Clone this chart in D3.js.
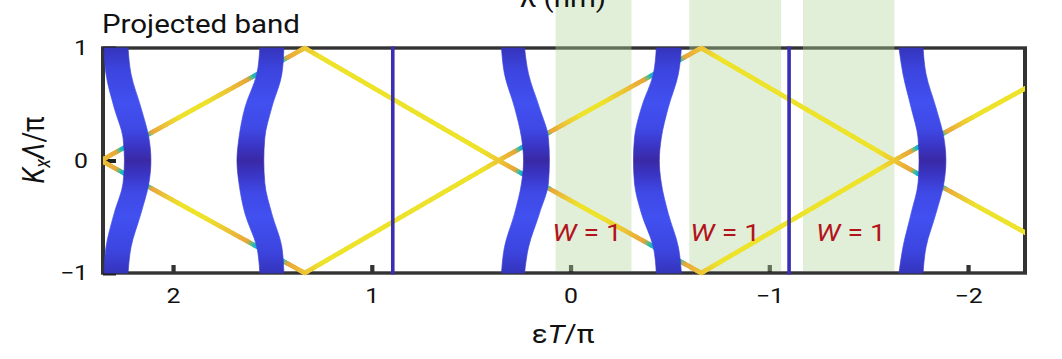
<!DOCTYPE html>
<html><head><meta charset="utf-8">
<script src="https://cdn.jsdelivr.net/npm/d3@7"></script>
<style>
html,body{margin:0;padding:0;background:#fff;overflow:hidden;}
svg{display:block;}
text{font-family:Roboto,"Liberation Sans",sans-serif;fill:#111;}
</style></head><body>
<div id="chart"></div>
<script>
// ---------------- data ----------------
const xDomain = [2.352, -2.287];          // εT/π (reversed axis)
const yDomain = [-1, 1];                  // K_xΛ/π
const xTicks = [2, 1, 0, -1, -2];
const yTicks = [-1, 0, 1];

// bulk projected bands: edges (εT/π) at each K_xΛ/π
const bandK = [-1, -0.77, -0.47, -0.2, 0, 0.2, 0.47, 0.77, 1];
const band1Hi = [2.347, 2.337, 2.296, 2.251, 2.244, 2.251, 2.296, 2.337, 2.347];
const band1Lo = [2.226, 2.211, 2.161, 2.121, 2.111, 2.121, 2.161, 2.211, 2.226];
const band2Hi = [1.563, 1.578, 1.638, 1.668, 1.678, 1.668, 1.638, 1.578, 1.563];
const band2Lo = [1.442, 1.452, 1.503, 1.538, 1.543, 1.538, 1.503, 1.452, 1.442];
const band3Hi = [0.347, 0.332, 0.281, 0.246, 0.236, 0.246, 0.281, 0.332, 0.347];
const band3Lo = [0.231, 0.211, 0.156, 0.111, 0.106, 0.111, 0.156, 0.211, 0.231];
const band4Hi = [-0.432, -0.417, -0.357, -0.322, -0.317, -0.322, -0.357, -0.417, -0.432];
const band4Lo = [-0.558, -0.543, -0.492, -0.457, -0.447, -0.457, -0.492, -0.543, -0.558];
const band5Hi = [-1.653, -1.673, -1.714, -1.749, -1.754, -1.749, -1.714, -1.673, -1.653];
const band5Lo = [-1.774, -1.789, -1.839, -1.879, -1.889, -1.879, -1.839, -1.789, -1.774];

// flat (dispersionless) bands
const flatBands = [0.894, -1.100];

// edge-state lines (εT/π, K_xΛ/π) vertices
const edgeA = [[2.362, 0], [1.337, 1], [0.362, 0], [-0.658, -1], [-1.628, 0], [-2.658, 1]];
const edgeB = [[2.362, 0], [1.337, -1], [0.362, 0], [-0.658, 1], [-1.628, 0], [-2.658, -1]];

// topological gap regions (W = 1)
const gapStart = [0.075, -0.598, -1.170];
const gapEnd = [-0.307, -1.060, -1.630];
const gapLabelX = [0.092, -0.603, -1.236];
const gapLabel = ["W", "W", "W"];

// ---------------- chart ----------------
const SX = 1.18;
const VW = 1062 / SX, VH = 359;
const svg = d3.select("#chart").append("svg")
  .attr("width", 1062).attr("height", 359)
  .attr("viewBox", `0 0 ${VW} ${VH}`)
  .attr("preserveAspectRatio", "none");

const x = d3.scaleLinear().domain(xDomain).range([103 / SX, 1025 / SX]);
const y = d3.scaleLinear().domain(yDomain).range([273, 48]);

const defs = svg.append("defs");
const grad = defs.append("linearGradient").attr("id", "bandGrad")
  .attr("gradientUnits", "userSpaceOnUse")
  .attr("x1", 0).attr("x2", 0).attr("y1", y(1) - 2).attr("y2", y(-1) + 2);
[[0, "#3433b8"], [0.1, "#3c44de"], [0.25, "#4150f0"], [0.36, "#3f49e6"], [0.44, "#3a35c4"],
 [0.5, "#3a29a6"], [0.56, "#3a35c4"], [0.64, "#3f49e6"], [0.75, "#4150f0"], [0.9, "#3c44de"], [1, "#3433b8"]]
  .forEach(([o, c]) => grad.append("stop").attr("offset", o).attr("stop-color", c));

// frame & ticks
const x0 = x.range()[0], x1 = x.range()[1];
svg.append("rect").attr("x", x0).attr("y", y(1)).attr("width", x1 - x0).attr("height", y(-1) - y(1))
  .attr("fill", "none").attr("stroke", "#333").attr("stroke-width", 3.4);

const xAxis = svg.append("g").attr("transform", `translate(0,${y(-1)})`)
  .call(d3.axisBottom(x).tickValues(xTicks).tickSize(-8).tickPadding(15).tickFormat(d3.format("d")));
xAxis.select(".domain").remove();
xAxis.selectAll(".tick line").attr("stroke", "#333").attr("stroke-width", 3.6);
xAxis.selectAll("text").style("font-size", "21px").style("fill", "#111").attr("font-family", null);

const yAxis = svg.append("g").attr("transform", `translate(${x0},0)`)
  .call(d3.axisLeft(y).tickValues(yTicks).tickSize(-11).tickPadding(15 / SX).tickFormat(d3.format("d")));
yAxis.select(".domain").remove();
yAxis.selectAll(".tick line").attr("stroke", "#222").attr("stroke-width", 4);
yAxis.selectAll("text").style("font-size", "21px").style("fill", "#111").attr("font-family", null);

// green gap regions
gapStart.forEach((s, i) => {
  svg.append("rect").attr("x", x(s)).attr("y", 0)
    .attr("width", x(gapEnd[i]) - x(s)).attr("height", y(-1) - 2)
    .attr("fill", "rgb(176,214,156)").attr("fill-opacity", 0.38);
});

// edge-state lines coloured by distance to bulk bands
const bands = [[band1Hi, band1Lo], [band2Hi, band2Lo], [band3Hi, band3Lo], [band4Hi, band4Lo], [band5Hi, band5Lo]];
const bandInterp = bands.map(([hi, lo]) => ({
  hi: d3.scaleLinear().domain(bandK).range(hi),
  lo: d3.scaleLinear().domain(bandK).range(lo)
}));
function distPx(v, k) {
  const px = x(v) * SX;
  let m = Infinity;
  for (const b of bandInterp) {
    const a = x(b.hi(k)) * SX, c = x(b.lo(k)) * SX;
    if (px >= a && px <= c) return 0;
    m = Math.min(m, Math.abs(px - a), Math.abs(px - c));
  }
  return m;
}
const lineColor = d3.scaleLinear().domain([0, 2.5, 6, 22, 40])
  .range(["#1ab3c9", "#5cbf86", "#e9a63b", "#ecc535", "#eee32c"]).clamp(true);

const clip = defs.append("clipPath").attr("id", "plotClip");
clip.append("rect").attr("x", x0).attr("y", y(1) - 3).attr("width", x1 - x0).attr("height", y(-1) - y(1) + 6);

const lineG = svg.append("g").attr("clip-path", "url(#plotClip)");
[edgeA, edgeB].forEach(poly => {
  for (let i = 0; i < poly.length - 1; i++) {
    const [va, ka] = poly[i], [vb, kb] = poly[i + 1];
    const N = 140;
    for (let j = 0; j < N; j++) {
      const t0 = j / N, t1 = (j + 1) / N, tm = (j + 0.5) / N;
      const vm = va + (vb - va) * tm, km = ka + (kb - ka) * tm;
      lineG.append("line")
        .attr("x1", x(va + (vb - va) * t0)).attr("y1", y(ka + (kb - ka) * t0))
        .attr("x2", x(va + (vb - va) * t1)).attr("y2", y(ka + (kb - ka) * t1))
        .attr("stroke", lineColor(distPx(vm, km)))
        .attr("stroke-width", 4.3).attr("stroke-linecap", "round");
    }
  }
});

// bulk bands
const bandArea = d3.area().curve(d3.curveMonotoneY)
  .y(d => y(d.k)).x0(d => x(d.hi)).x1(d => x(d.lo));
const bandG = svg.append("g");
bands.forEach(([hi, lo]) => {
  const pts = bandK.map((k, i) => ({ k, hi: hi[i], lo: lo[i] }));
  bandG.append("path").attr("d", bandArea(pts)).attr("fill", "url(#bandGrad)")
    .attr("stroke", "url(#bandGrad)").attr("stroke-width", 0.6);
});

// flat bands
flatBands.forEach(v => {
  svg.append("line").attr("x1", x(v)).attr("x2", x(v)).attr("y1", y(1) - 1.5).attr("y2", y(-1) + 1.5)
    .attr("stroke", "#3a2fb2").attr("stroke-width", 3.6 / SX);
});

// W labels
gapLabelX.forEach((v, i) => {
  const t = svg.append("text").attr("x", x(v)).attr("y", 241).style("font-size", "24px").style("fill", "#b3141c");
  t.append("tspan").style("font-style", "italic").style("fill", "#b3141c").text(gapLabel[i]);
  t.append("tspan").style("fill", "#b3141c").text(" = 1");
});

// titles
svg.append("text").attr("x", 102 / SX).attr("y", 33).style("font-size", "25px").text("Projected band");
svg.append("text").attr("x", 563 / SX).attr("y", 7).attr("text-anchor", "middle").style("font-size", "25px").text("λ (nm)");

const xt = svg.append("text").attr("x", 563 / SX).attr("y", 343).attr("text-anchor", "middle").style("font-size", "25px");
xt.append("tspan").text("ε");
xt.append("tspan").style("font-style", "italic").text("T");
xt.append("tspan").text("/π");

const yt = svg.append("text").attr("transform", `translate(${44 / SX},150) rotate(-90)`)
  .attr("text-anchor", "middle").style("font-size", "26px");
yt.append("tspan").style("font-style", "italic").text("K");
yt.append("tspan").style("font-style", "italic").style("font-size", "18px").attr("dy", 5).text("x");
yt.append("tspan").style("font-style", "italic").attr("dy", -5).text("Λ");
yt.append("tspan").text("/π");
</script>
</body></html>
